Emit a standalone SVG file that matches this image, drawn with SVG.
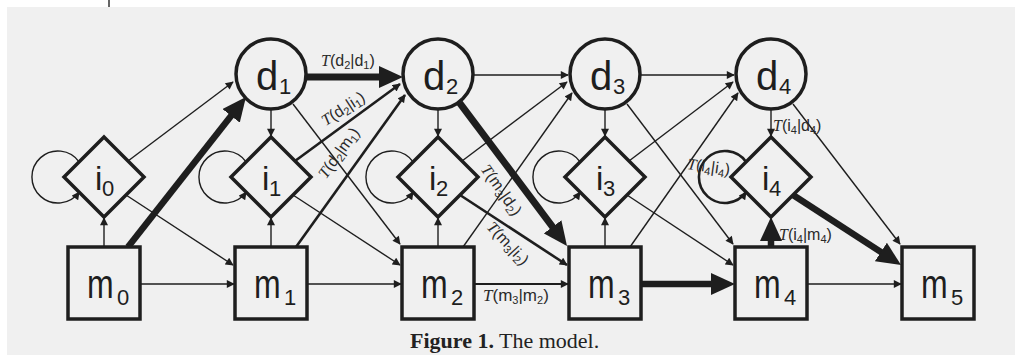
<svg xmlns="http://www.w3.org/2000/svg" width="1019" height="358" viewBox="0 0 1019 358">
<style>
.nd{fill:#f0f0f0;stroke:#1e1e1e;stroke-width:3.5}
.e{fill:none;stroke:#1e1e1e;stroke-width:1.4}
.e2{fill:none;stroke:#1e1e1e;stroke-width:2.6}
.e3{fill:none;stroke:#1e1e1e;stroke-width:6.5}
.big{font-family:"Liberation Sans",Arial,sans-serif;font-size:40px;fill:#1e1e1e}
.ib{font-family:"Liberation Sans",Arial,sans-serif;font-size:33px;fill:#1e1e1e}
.sub{font-family:"Liberation Sans",Arial,sans-serif;font-size:22px;fill:#1e1e1e}
.lbl{font-family:"Liberation Sans",Arial,sans-serif;font-size:16px;fill:#2a2a2a}
.lbl .s{font-size:11px}
.lbl .t{font-family:"Liberation Serif",serif;font-style:italic}
.cap{font-family:"Liberation Serif","Times New Roman",serif;font-size:22px;fill:#222}
</style>
<defs>
<marker id="s" viewBox="0 0 10 10" refX="9" refY="5" markerWidth="9" markerHeight="8" markerUnits="userSpaceOnUse" orient="auto"><path d="M0,0L10,5L0,10z" fill="#1e1e1e"/></marker>
<marker id="b" viewBox="0 0 24 22" refX="10" refY="11" markerWidth="24" markerHeight="22" markerUnits="userSpaceOnUse" orient="auto"><path d="M0,0L24,11L0,22z" fill="#1e1e1e"/></marker>
</defs>
<rect width="1019" height="358" fill="#ffffff"/>
<rect x="7" y="7" width="1008" height="348" fill="#f0f0f0"/>
<line x1="109" y1="0" x2="109" y2="7" stroke="#333" stroke-width="1.5"/>

<g id="connectors">
<!-- k=0 -->
<line class="e" x1="140" y1="284" x2="234" y2="284" marker-end="url(#s)"/>
<line class="e" x1="104" y1="247" x2="104" y2="218" marker-end="url(#s)"/>
<line class="e3" x1="128" y1="247" x2="237.3" y2="108" marker-end="url(#b)"/>
<line class="e" x1="128" y1="161" x2="233" y2="82" marker-end="url(#s)"/>
<line class="e" x1="126" y1="195" x2="233" y2="265" marker-end="url(#s)"/>
<path class="e" d="M79.1,161.9A26 26 0 1 0 79.1,192.1" marker-end="url(#s)"/>
<!-- k=1 -->
<line class="e" x1="307" y1="284" x2="401" y2="284" marker-end="url(#s)"/>
<line class="e" x1="271" y1="247" x2="271" y2="218" marker-end="url(#s)"/>
<line class="e2" x1="296" y1="247" x2="405" y2="95" marker-end="url(#s)"/>
<line class="e2" x1="295" y1="161" x2="400" y2="84" marker-end="url(#s)"/>
<line class="e" x1="293" y1="195" x2="400" y2="265" marker-end="url(#s)"/>
<path class="e" d="M246.1,161.9A26 26 0 1 0 246.1,192.1" marker-end="url(#s)"/>
<line class="e3" style="stroke-width:7" x1="307" y1="77" x2="389" y2="77" marker-end="url(#b)"/>
<line class="e" x1="271" y1="110" x2="271" y2="136" marker-end="url(#s)"/>
<line class="e" x1="293" y1="104" x2="400" y2="244" marker-end="url(#s)"/>
<!-- k=2 -->
<line class="e" style="stroke-width:2" x1="474" y1="284" x2="568" y2="284" marker-end="url(#s)"/>
<line class="e" x1="438" y1="247" x2="438" y2="218" marker-end="url(#s)"/>
<line class="e" x1="463" y1="247" x2="572" y2="93" marker-end="url(#s)"/>
<line class="e" x1="462" y1="161" x2="567" y2="82" marker-end="url(#s)"/>
<line class="e2" x1="460" y1="195" x2="567" y2="265" marker-end="url(#s)"/>
<path class="e" d="M413.1,161.9A26 26 0 1 0 413.1,192.1" marker-end="url(#s)"/>
<line class="e" x1="474" y1="75" x2="568" y2="75" marker-end="url(#s)"/>
<line class="e" x1="438" y1="110" x2="438" y2="136" marker-end="url(#s)"/>
<line class="e3" style="stroke-width:7" x1="459.6" y1="102.8" x2="558.6" y2="234.8" marker-end="url(#b)"/>
<!-- k=3 -->
<line class="e3" x1="641" y1="284" x2="721" y2="284" marker-end="url(#b)"/>
<line class="e" x1="605" y1="247" x2="605" y2="218" marker-end="url(#s)"/>
<line class="e" x1="630" y1="247" x2="738" y2="93" marker-end="url(#s)"/>
<line class="e" x1="629" y1="161" x2="733" y2="82" marker-end="url(#s)"/>
<line class="e" x1="627" y1="195" x2="733" y2="265" marker-end="url(#s)"/>
<path class="e" d="M580.1,161.9A26 26 0 1 0 580.1,192.1" marker-end="url(#s)"/>
<line class="e" x1="641" y1="75" x2="734" y2="75" marker-end="url(#s)"/>
<line class="e" x1="605" y1="110" x2="605" y2="136" marker-end="url(#s)"/>
<line class="e" x1="627" y1="104" x2="733" y2="244" marker-end="url(#s)"/>
<!-- k=4 -->
<line class="e" x1="807" y1="284" x2="901" y2="284" marker-end="url(#s)"/>
<line class="e3" x1="771" y1="247" x2="771" y2="231" marker-end="url(#b)"/>
<line class="e3" x1="793" y1="195" x2="889.3" y2="257.4" marker-end="url(#b)"/>
<path class="e2" d="M746.1,161.9A26 26 0 1 0 746.1,192.1" marker-end="url(#s)"/>
<line class="e" x1="771" y1="110" x2="771" y2="136" marker-end="url(#s)"/>
<line class="e" x1="793" y1="104" x2="900" y2="244" marker-end="url(#s)"/>
</g>

<g id="edge-labels">
<text class="lbl" x="321" y="66"><tspan class="t">T</tspan>(d<tspan class="s" dy="3">2</tspan><tspan dy="-3">|d</tspan><tspan class="s" dy="3">1</tspan><tspan dy="-3">)</tspan></text>
<text class="lbl" text-anchor="middle" transform="translate(346,113) rotate(-33)"><tspan class="t">T</tspan>(d<tspan class="s" dy="3">2</tspan><tspan dy="-3">|i</tspan><tspan class="s" dy="3">1</tspan><tspan dy="-3">)</tspan></text>
<text class="lbl" text-anchor="middle" transform="translate(343,156) rotate(-54)"><tspan class="t">T</tspan>(d<tspan class="s" dy="3">2</tspan><tspan dy="-3">|m</tspan><tspan class="s" dy="3">1</tspan><tspan dy="-3">)</tspan></text>
<text class="lbl" text-anchor="middle" transform="translate(497,193) rotate(55)"><tspan class="t">T</tspan>(m<tspan class="s" dy="3">3</tspan><tspan dy="-3">|d</tspan><tspan class="s" dy="3">2</tspan><tspan dy="-3">)</tspan></text>
<text class="lbl" text-anchor="middle" transform="translate(504,247) rotate(47)"><tspan class="t">T</tspan>(m<tspan class="s" dy="3">3</tspan><tspan dy="-3">|i</tspan><tspan class="s" dy="3">2</tspan><tspan dy="-3">)</tspan></text>
<text class="lbl" x="483" y="301" style="font-size:17px"><tspan class="t">T</tspan>(m<tspan class="s" dy="3">3</tspan><tspan dy="-3">|m</tspan><tspan class="s" dy="3">2</tspan><tspan dy="-3">)</tspan></text>
<text class="lbl" x="773" y="131"><tspan class="t">T</tspan>(i<tspan class="s" dy="3">4</tspan><tspan dy="-3">|d</tspan><tspan class="s" dy="3">4</tspan><tspan dy="-3">)</tspan></text>
<text class="lbl" text-anchor="middle" transform="translate(708,172) rotate(8)"><tspan class="t">T</tspan>(i<tspan class="s" dy="3">4</tspan><tspan dy="-3">|i</tspan><tspan class="s" dy="3">4</tspan><tspan dy="-3">)</tspan></text>
<text class="lbl" x="779" y="240"><tspan class="t">T</tspan>(i<tspan class="s" dy="3">4</tspan><tspan dy="-3">|m</tspan><tspan class="s" dy="3">4</tspan><tspan dy="-3">)</tspan></text>
</g>

<g id="d1"><circle class="nd" cx="271" cy="74" r="35"/><text class="big" x="256" y="90">d</text><text class="sub" x="279" y="94">1</text></g>
<g id="d2"><circle class="nd" cx="438" cy="74" r="35"/><text class="big" x="423" y="90">d</text><text class="sub" x="446" y="94">2</text></g>
<g id="d3"><circle class="nd" cx="605" cy="74" r="35"/><text class="big" x="590" y="90">d</text><text class="sub" x="613" y="94">3</text></g>
<g id="d4"><circle class="nd" cx="771" cy="74" r="35"/><text class="big" x="756" y="90">d</text><text class="sub" x="779" y="94">4</text></g>

<g id="i0"><polygon class="nd" points="104,137 144,177 104,217 64,177"/><text class="ib" x="95" y="190">i</text><text class="sub" x="102" y="196">0</text></g>
<g id="i1"><polygon class="nd" points="271,137 311,177 271,217 231,177"/><text class="ib" x="262" y="190">i</text><text class="sub" x="269" y="196">1</text></g>
<g id="i2"><polygon class="nd" points="438,137 478,177 438,217 398,177"/><text class="ib" x="429" y="190">i</text><text class="sub" x="436" y="196">2</text></g>
<g id="i3"><polygon class="nd" points="605,137 645,177 605,217 565,177"/><text class="ib" x="596" y="190">i</text><text class="sub" x="603" y="196">3</text></g>
<g id="i4"><polygon class="nd" points="771,137 811,177 771,217 731,177"/><text class="ib" x="762" y="190">i</text><text class="sub" x="769" y="196">4</text></g>

<g id="m0"><rect class="nd" x="68" y="247" width="72" height="72"/><text class="big" transform="translate(87,298) scale(0.8,1)">m</text><text class="sub" x="117" y="305">0</text></g>
<g id="m1"><rect class="nd" x="235" y="247" width="72" height="72"/><text class="big" transform="translate(254,298) scale(0.8,1)">m</text><text class="sub" x="284" y="305">1</text></g>
<g id="m2"><rect class="nd" x="402" y="247" width="72" height="72"/><text class="big" transform="translate(421,298) scale(0.8,1)">m</text><text class="sub" x="451" y="305">2</text></g>
<g id="m3"><rect class="nd" x="569" y="247" width="72" height="72"/><text class="big" transform="translate(588,298) scale(0.8,1)">m</text><text class="sub" x="618" y="305">3</text></g>
<g id="m4"><rect class="nd" x="735" y="247" width="72" height="72"/><text class="big" transform="translate(754,298) scale(0.8,1)">m</text><text class="sub" x="784" y="305">4</text></g>
<g id="m5"><rect class="nd" x="902" y="247" width="72" height="72"/><text class="big" transform="translate(921,298) scale(0.8,1)">m</text><text class="sub" x="951" y="305">5</text></g>

<text class="cap" x="410" y="348"><tspan font-weight="bold">Figure 1.</tspan> The model.</text>
</svg>
